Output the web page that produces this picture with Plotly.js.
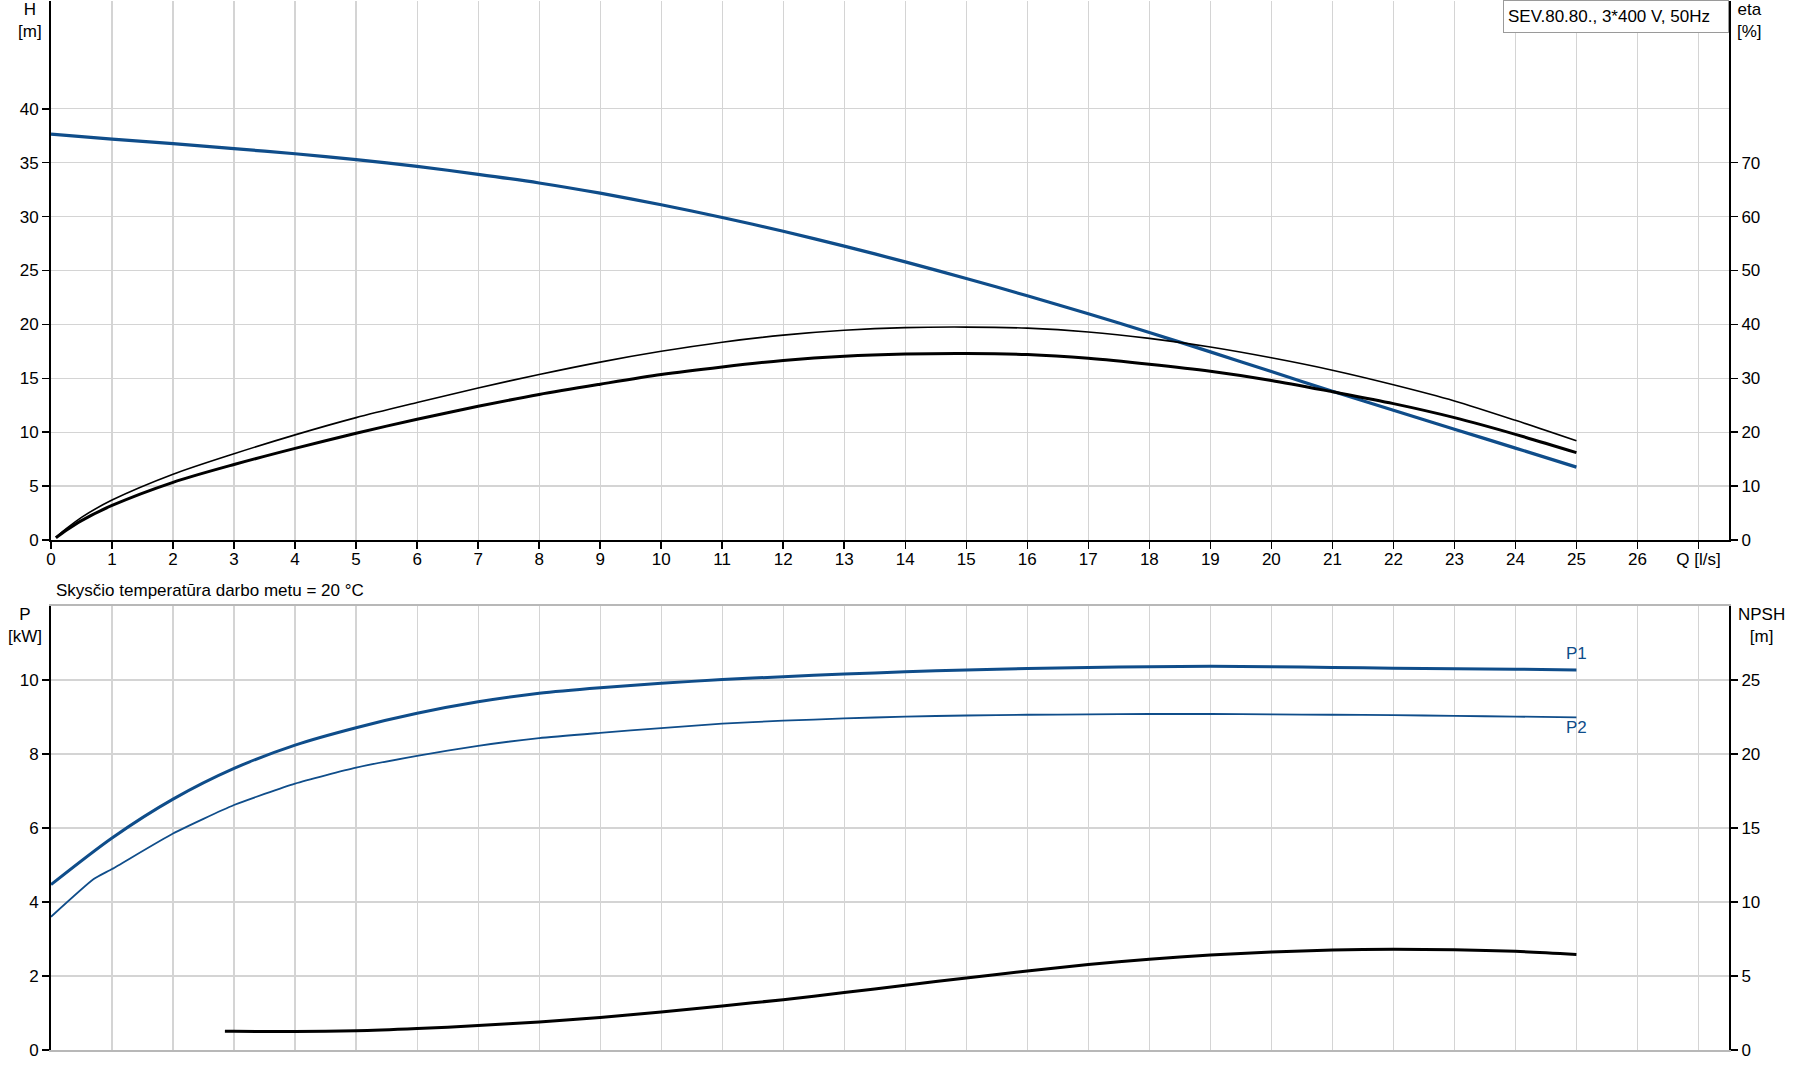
<!DOCTYPE html>
<html>
<head>
<meta charset="utf-8">
<script src="https://cdn.plot.ly/plotly-3.0.1.min.js"></script>
<style>html,body{margin:0;padding:0;background:#fff;}#chart{width:1795px;height:1081px;}</style>
</head>
<body>
<div id="chart"></div>
<script>
// ---- data ----
const qH = [0,1,2,3,4,5,6,7,8,9,10,11,12,13,14,15,16,17,18,19,20,21,22,23,24,25];
const head = [37.65,37.19,36.76,36.30,35.83,35.28,34.66,33.92,33.12,32.17,31.10,29.92,28.64,27.26,25.80,24.26,22.65,20.98,19.25,17.45,15.62,13.80,12.03,10.28,8.52,6.76];

const qEta = [0.08,0.25,0.5,1,2,3,4,5,6,7,8,9,10,11,12,13,14,15,16,17,18,19,20,21,22,23,24,25];
const etaPump = [0.5,2.1,4.2,7.4,12.2,16.0,19.5,22.7,25.5,28.2,30.7,33.0,35.0,36.7,38.0,38.9,39.4,39.5,39.3,38.6,37.4,35.8,33.8,31.5,28.8,25.8,22.2,18.4];
const etaTotal = [0.4,1.8,3.6,6.4,10.7,14.0,17.0,19.8,22.4,24.8,27.0,28.9,30.7,32.1,33.3,34.1,34.5,34.6,34.4,33.7,32.6,31.3,29.6,27.5,25.3,22.7,19.6,16.2];

const qP1 = [0,1,2,3,4,5,6,7,8,9,10,11,12,13,14,15,16,17,18,19,20,21,22,23,24,25];
const p1 = [4.47,5.73,6.78,7.61,8.24,8.71,9.10,9.41,9.64,9.79,9.91,10.01,10.09,10.16,10.22,10.27,10.31,10.34,10.36,10.37,10.36,10.34,10.32,10.30,10.29,10.27];

const qP2 = [0,0.7,1,2,3,4,5,6,7,8,9,10,11,12,13,14,15,16,17,18,19,20,21,22,23,24,25];
const p2 = [3.60,4.62,4.89,5.85,6.62,7.20,7.63,7.95,8.22,8.43,8.57,8.70,8.82,8.90,8.96,9.01,9.04,9.06,9.07,9.08,9.08,9.07,9.06,9.05,9.03,9.01,8.99];

const qNpsh = [2.85,3,4,5,6,7,8,9,10,11,12,13,14,15,16,17,18,19,20,21,22,23,24,25];
const npsh = [1.26,1.26,1.25,1.30,1.45,1.65,1.90,2.20,2.57,2.98,3.40,3.88,4.37,4.87,5.34,5.77,6.13,6.42,6.62,6.75,6.80,6.78,6.67,6.46];

const qTicks = [0,1,2,3,4,5,6,7,8,9,10,11,12,13,14,15,16,17,18,19,20,21,22,23,24,25,26,27];
const qTickText = ['0','1','2','3','4','5','6','7','8','9','10','11','12','13','14','15','16','17','18','19','20','21','22','23','24','25','26','Q [l/s]'];
const hTicks = [0,5,10,15,20,25,30,35,40];
const etaTicks = [0,10,20,30,40,50,60,70];
const pTicks = [0,2,4,6,8,10];
const npshTicks = [0,5,10,15,20,25];

const modelText = 'SEV.80.80., 3*400 V, 50Hz';
const tempText = 'Skysčio temperatūra darbo metu = 20 °C';

// ---- styling ----
const BLUE = '#0f4d8a';
const GRID = '#d4d4d4';
const FONT = '"Liberation Sans", Arial, sans-serif';
const FS = 17;

const traces = [
  {x: qH, y: head, xaxis:'x', yaxis:'y', mode:'lines', line:{color:BLUE, width:3.2, shape:'spline', smoothing:0.8}, hoverinfo:'skip'},
  {x: qEta, y: etaPump, xaxis:'x', yaxis:'y2', mode:'lines', line:{color:'#000', width:1.6, shape:'spline', smoothing:0.8}, hoverinfo:'skip'},
  {x: qEta, y: etaTotal, xaxis:'x', yaxis:'y2', mode:'lines', line:{color:'#000', width:3, shape:'spline', smoothing:0.8}, hoverinfo:'skip'},
  {x: qP1, y: p1, xaxis:'x2', yaxis:'y4', mode:'lines', line:{color:BLUE, width:3, shape:'spline', smoothing:0.8}, hoverinfo:'skip'},
  {x: qP2, y: p2, xaxis:'x2', yaxis:'y4', mode:'lines', line:{color:BLUE, width:1.8, shape:'spline', smoothing:0.5}, hoverinfo:'skip'},
  {x: qNpsh, y: npsh, xaxis:'x2', yaxis:'y5', mode:'lines', line:{color:'#000', width:3, shape:'spline', smoothing:0.8}, hoverinfo:'skip'}
];

const topDom = [0.4862, 1];
const botDom = [0, 0.4233];
const tickFont = {family: FONT, size: FS, color: '#000'};

const layout = {
  width: 1795, height: 1081,
  margin: {l:51, r:66, t:1, b:31},
  paper_bgcolor: '#fff', plot_bgcolor: '#fff',
  showlegend: false,
  font: {family: FONT, size: FS, color: '#000'},
  xaxis: {
    domain:[0,1], anchor:'y', range:[0,27.5],
    tickmode:'array', tickvals:qTicks, ticktext:qTickText,
    ticks:'outside', ticklen:7, tickwidth:1.5, tickcolor:'#000', ticklabelstandoff:-4,
    showline:true, linecolor:'#000', linewidth:2,
    showgrid:true, gridcolor:GRID, gridwidth:1.2, zeroline:false,
    tickfont:tickFont, fixedrange:true
  },
  yaxis: {
    domain:topDom, anchor:'x', range:[0,50],
    tickmode:'array', tickvals:hTicks,
    ticks:'outside', ticklen:7, tickwidth:1.5, tickcolor:'#000',
    showline:true, linecolor:'#000', linewidth:2,
    showgrid:true, gridcolor:GRID, gridwidth:1.2, zeroline:false,
    tickfont:tickFont, fixedrange:true
  },
  yaxis3: {
    overlaying:'y', anchor:'x', side:'left', range:[0,50],
    tickmode:'array', tickvals:[45,50], showticklabels:false, ticks:'',
    showline:false, showgrid:true, gridcolor:GRID, gridwidth:1.2, zeroline:false, fixedrange:true
  },
  yaxis2: {
    overlaying:'y', anchor:'x', side:'right', range:[0,100],
    tickmode:'array', tickvals:etaTicks,
    ticks:'outside', ticklen:7, tickwidth:1.5, tickcolor:'#000',
    showline:true, linecolor:'#000', linewidth:2,
    showgrid:false, zeroline:false, tickfont:tickFont, fixedrange:true
  },
  xaxis2: {
    domain:[0,1], anchor:'y4', range:[0,27.5], matches:'x',
    tickmode:'array', tickvals:qTicks, showticklabels:false, ticks:'',
    showline:true, mirror:true, linecolor:'#b8b8b8', linewidth:2.2,
    showgrid:true, gridcolor:GRID, gridwidth:1.2, zeroline:false, fixedrange:true
  },
  yaxis4: {
    domain:botDom, anchor:'x2', range:[0,12],
    tickmode:'array', tickvals:pTicks,
    ticks:'outside', ticklen:7, tickwidth:1.5, tickcolor:'#000',
    showline:true, linecolor:'#000', linewidth:2,
    showgrid:true, gridcolor:GRID, gridwidth:1.2, zeroline:false,
    tickfont:tickFont, fixedrange:true
  },
  yaxis5: {
    overlaying:'y4', anchor:'x2', side:'right', range:[0,30],
    tickmode:'array', tickvals:npshTicks,
    ticks:'outside', ticklen:7, tickwidth:1.5, tickcolor:'#000',
    showline:true, linecolor:'#000', linewidth:2,
    showgrid:false, zeroline:false, tickfont:tickFont, fixedrange:true
  },
  annotations: [
    {text:'H<br>[m]', xref:'paper', yref:'paper', x:-0.0125, y:1, yshift:3, xanchor:'center', yanchor:'top', showarrow:false, font:{family:FONT,size:FS,color:'#000'}},
    {text:'eta<br>[%]', xref:'paper', yref:'paper', x:1.0125, y:1, yshift:3, xanchor:'center', yanchor:'top', showarrow:false, font:{family:FONT,size:FS,color:'#000'}},
    {text:'P<br>[kW]', xref:'paper', yref:'paper', x:-0.0157, y:0.4252, yshift:1, xanchor:'center', yanchor:'top', showarrow:false, font:{family:FONT,size:FS,color:'#000'}},
    {text:'NPSH<br>[m]', xref:'paper', yref:'paper', x:1.0195, y:0.4252, yshift:1, xanchor:'center', yanchor:'top', showarrow:false, font:{family:FONT,size:FS,color:'#000'}},
    {text:tempText, xref:'paper', yref:'paper', x:0.0015, y:0.4385, xanchor:'left', yanchor:'middle', showarrow:false, font:{family:FONT,size:FS,color:'#000'}},
    {text:modelText, xref:'paper', yref:'paper', x:1, y:1.001, xanchor:'right', yanchor:'top', showarrow:false, align:'left',
     width:216, height:23, borderpad:4, borderwidth:1, bordercolor:'#9a9a9a', bgcolor:'#fff', font:{family:FONT,size:FS,color:'#000'}},
    {text:'P1', xref:'x2', yref:'y4', x:qP1[qP1.length-1], y:p1[p1.length-1], yshift:16, xanchor:'center', yanchor:'middle', showarrow:false, font:{family:FONT,size:FS,color:BLUE}},
    {text:'P2', xref:'x2', yref:'y4', x:qP2[qP2.length-1], y:p2[p2.length-1], yshift:-10, xanchor:'center', yanchor:'middle', showarrow:false, font:{family:FONT,size:FS,color:BLUE}}
  ]
};

Plotly.newPlot('chart', traces, layout, {staticPlot:true, displayModeBar:false});
</script>
</body>
</html>
